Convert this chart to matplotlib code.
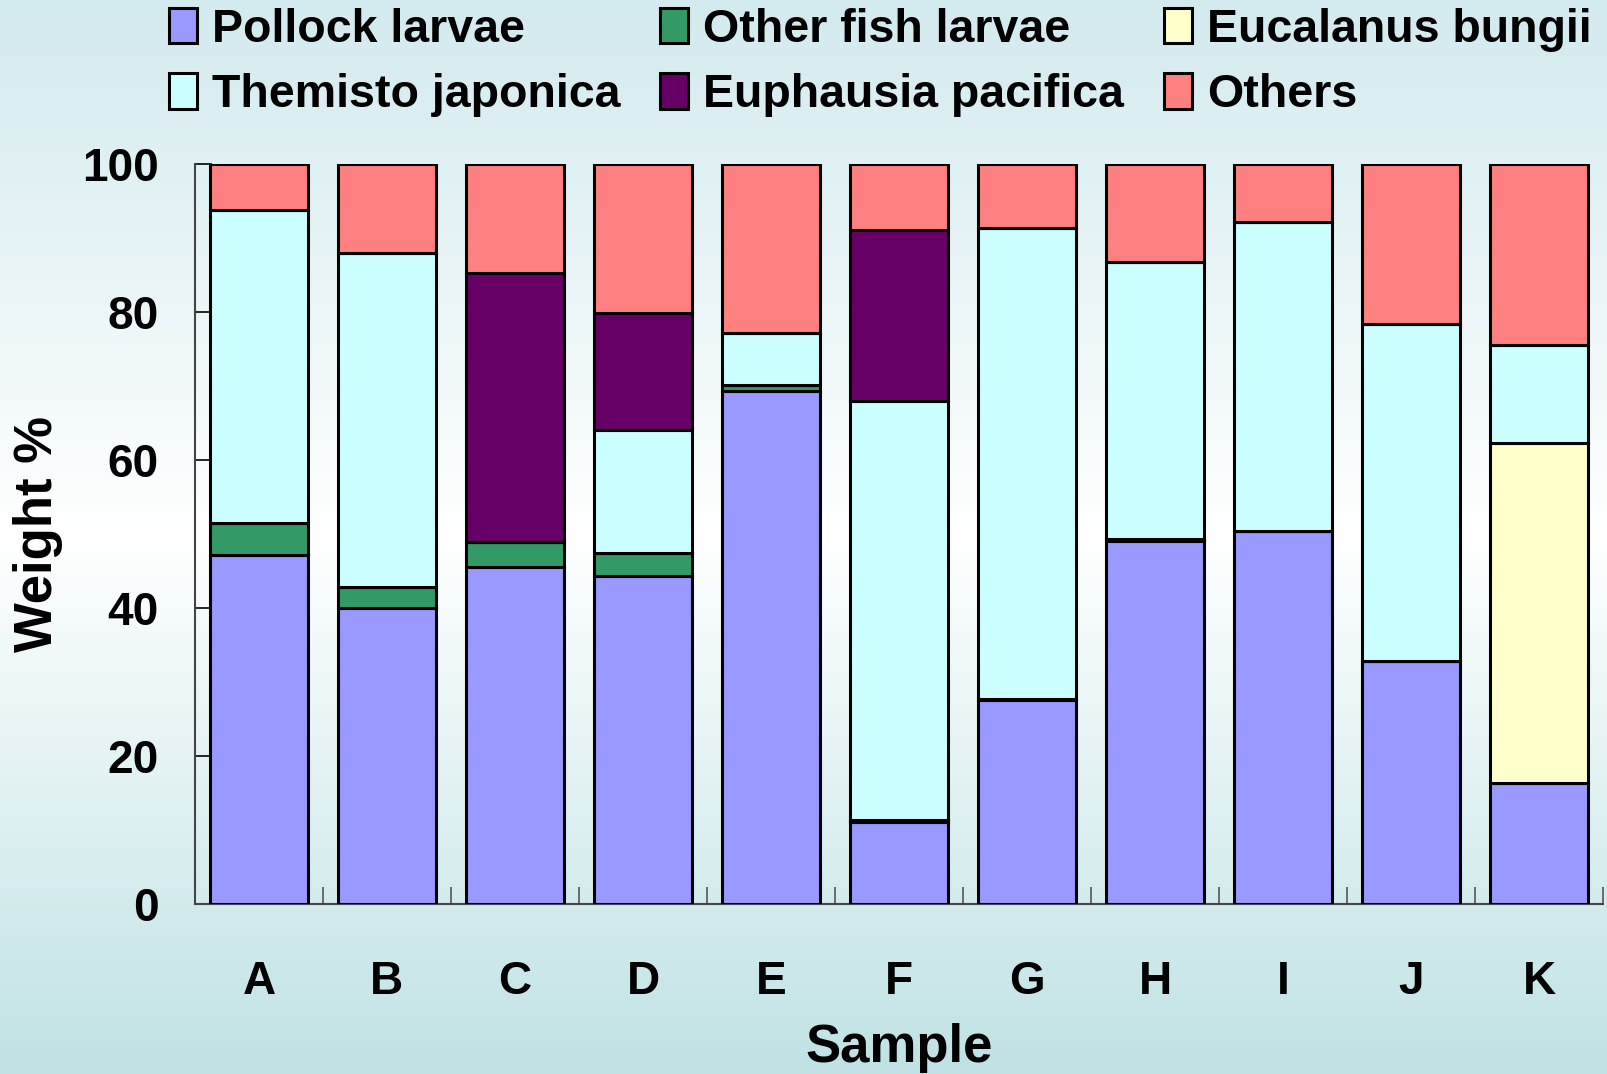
import numpy as np
import matplotlib
matplotlib.use('Agg')
import matplotlib.pyplot as plt
from matplotlib.colors import LinearSegmentedColormap

plt.rcParams['font.family'] = ['Liberation Sans', 'DejaVu Sans']
plt.rcParams['font.weight'] = 'bold'

# data (weight %)
samples = ['A', 'B', 'C', 'D', 'E', 'F', 'G', 'H', 'I', 'J', 'K']
pollock = [47.1, 40.0, 45.6, 44.3, 69.3, 11.1, 27.6, 49.0, 50.4, 32.8, 16.3]
other_fish = [4.4, 2.8, 3.3, 3.1, 0.8, 0.3, 0.1, 0.3, 0.0, 0.0, 0.0]
eucalanus = [0, 0, 0, 0, 0, 0, 0, 0, 0, 0, 46.0]
themisto = [42.3, 45.2, 0.0, 16.6, 7.0, 56.6, 63.7, 37.5, 41.7, 45.6, 13.3]
euphausia = [0, 0, 36.4, 15.9, 0, 23.1, 0, 0, 0, 0, 0]
others = [100 - sum(v) for v in zip(pollock, other_fish, eucalanus, themisto, euphausia)]

series = [pollock, other_fish, eucalanus, themisto, euphausia, others]
names = ['Pollock larvae', 'Other fish larvae', 'Eucalanus bungii',
         'Themisto japonica', 'Euphausia pacifica', 'Others']
colors = ['#9999FF', '#339966', '#FFFFCC', '#CCFFFF', '#660066', '#FF8080']

fig = plt.figure(figsize=(16.07, 10.74), dpi=100)

# background gradient
bg = fig.add_axes([0, 0, 1, 1], zorder=-10)
grad = LinearSegmentedColormap.from_list('bg', [(0, '#C0E2E4'), (0.5, '#FFFFFF'), (1, '#D3EAEE')])
bg.imshow(np.linspace(0, 1, 256).reshape(-1, 1), aspect='auto', cmap=grad,
          origin='lower', extent=[0, 1, 0, 1])
bg.axis('off')

ax = fig.add_axes([0.1213, 0.1583, 0.8762, 0.689])
ax.patch.set_alpha(0)

x = np.arange(len(samples))
bottom = np.zeros(len(samples))
handles = []
for vals, name, c in zip(series, names, colors):
    vals = np.array(vals, dtype=float)
    b = ax.bar(x, vals, width=0.77, bottom=bottom, color=c, edgecolor='black',
               linewidth=2.2, label=name, zorder=3)
    handles.append(b)
    bottom += vals

ax.set_xlim(-0.5, len(samples) - 0.5)
ax.set_ylim(0, 100)
ax.set_yticks([0, 20, 40, 60, 80, 100])
ax.set_xticks(x)
ax.set_xticklabels(samples)
ax.set_xticks(np.arange(-0.5, len(samples)), minor=True)
ax.tick_params(axis='x', which='major', length=0, pad=40, labelsize=33)
ax.tick_params(axis='x', which='minor', direction='in', length=12, width=1.2, color='#555555')
ax.tick_params(axis='y', direction='in', length=12, width=1.2, pad=26, labelsize=33)

for s in ['top', 'right']:
    ax.spines[s].set_visible(False)
ax.spines['left'].set_color('#444444')
ax.spines['bottom'].set_color('#444444')
ax.spines['left'].set_linewidth(1.5)
ax.spines['bottom'].set_linewidth(1.5)

ax.set_ylabel('Weight %', fontsize=38, fontweight='bold', labelpad=14)
ax.set_xlabel('Sample', fontsize=38, fontweight='bold', labelpad=14)

# order so rows read left to right
handles_r = [handles[0], handles[3], handles[1], handles[4], handles[2], handles[5]]
names_r = [names[0], names[3], names[1], names[4], names[2], names[5]]
fig.legend(handles_r, names_r, ncol=3, loc='upper left', bbox_to_anchor=(0.079, 1.032),
           frameon=False, fontsize=33.5, handlelength=0.6, handleheight=0.8,
           handletextpad=0.33, columnspacing=0.85, labelspacing=0.47)

fig.savefig('out.png', dpi=100)
